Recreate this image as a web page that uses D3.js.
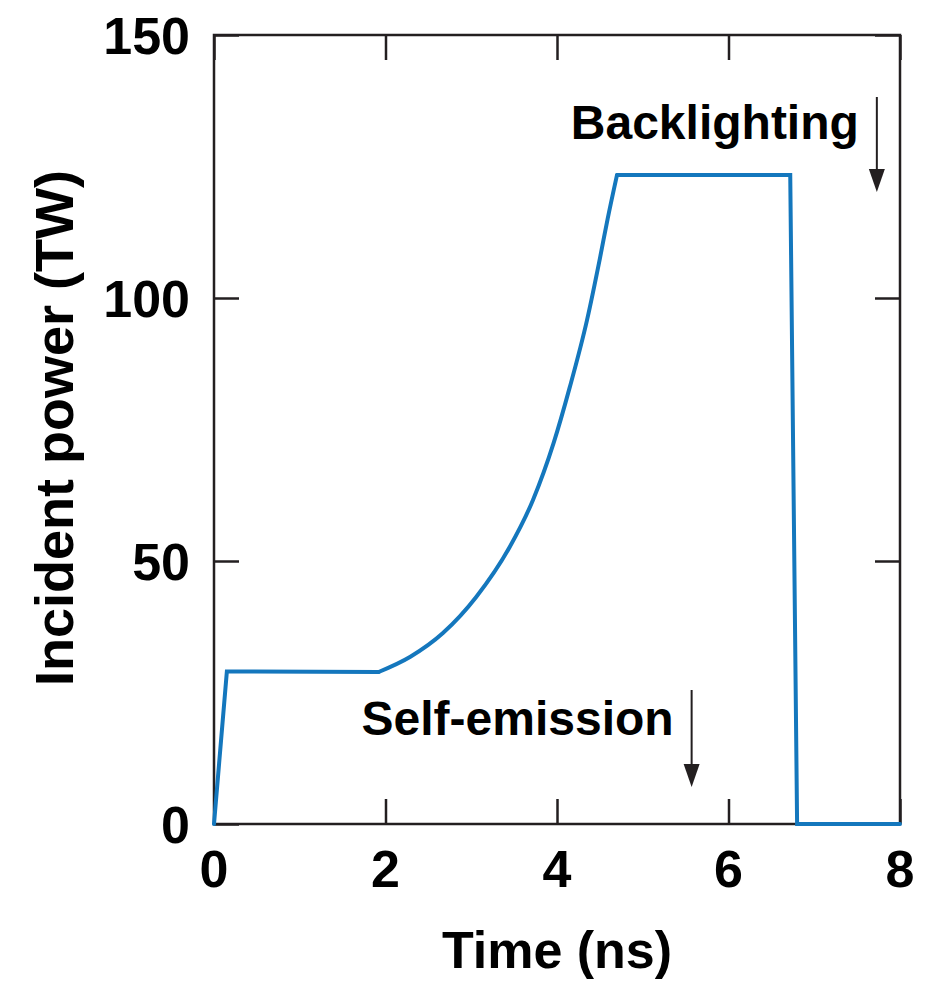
<!DOCTYPE html>
<html>
<head>
<meta charset="utf-8">
<script src="https://cdn.jsdelivr.net/npm/d3@7"></script>
<style>
  body { margin: 0; background: #fff; }
  text { font-family: "Liberation Sans", Arial, Helvetica, sans-serif; font-weight: bold; }
</style>
</head>
<body>
<svg id="chart"></svg>
<script>
// pulse shape (time in ns, power in TW)
// foot and plateau segments are straight, the ramp is smooth
var footTime  = [0, 0.15, 1.92];
var footPower = [0, 29,   28.9];

var rampTime  = [1.92, 2.29, 2.67, 3.06, 3.45, 3.72, 3.96, 4.15, 4.35, 4.50, 4.59, 4.70];
var rampPower = [28.9, 31.8, 36.3, 43.2, 52.7, 61.6, 72.4, 83.1, 95.8, 107.5, 115.0, 123.4];

var tailTime  = [4.70, 6.72, 6.80, 8.0];
var tailPower = [123.4, 123.4, 0, 0];

var xTicks = [0, 2, 4, 6, 8];
var yTicks = [0, 50, 100, 150];

var notes = [
  {label: 'Backlighting', t: 7.73, top: 139, arrowTop: 97, arrowBottom: 192},
  {label: 'Self-emission', t: 5.57, top: 735, arrowTop: 690, arrowBottom: 787}
];

var width = 932,
    height = 981;

var margin = {left: 214, right: 32, top: 35, bottom: 157};

var svg = d3.select('#chart')
    .attr('width', width)
    .attr('height', height);

var x = d3.scaleLinear().domain([0, 8]).range([margin.left, width - margin.right]);
var y = d3.scaleLinear().domain([0, 150]).range([height - margin.bottom, margin.top]);

var frameColor = '#231f20';
var tickLen = 25;

// frame
svg.append('rect')
  .attr('x', x(0))
  .attr('y', y(150))
  .attr('width', x(8) - x(0))
  .attr('height', y(0) - y(150))
  .attr('fill', 'none')
  .attr('stroke', frameColor)
  .attr('stroke-width', 2.5);

// inward ticks on all four sides
svg.append('g')
  .attr('transform', 'translate(0,' + y(0) + ')')
  .call(d3.axisTop(x).tickValues(xTicks).tickSize(tickLen).tickFormat(''))
  .call(function(g) { g.select('.domain').remove(); });
svg.append('g')
  .attr('transform', 'translate(0,' + y(150) + ')')
  .call(d3.axisBottom(x).tickValues(xTicks).tickSize(tickLen).tickFormat(''))
  .call(function(g) { g.select('.domain').remove(); });
svg.append('g')
  .attr('transform', 'translate(' + x(0) + ',0)')
  .call(d3.axisRight(y).tickValues(yTicks).tickSize(tickLen).tickFormat(''))
  .call(function(g) { g.select('.domain').remove(); });
svg.append('g')
  .attr('transform', 'translate(' + x(8) + ',0)')
  .call(d3.axisLeft(y).tickValues(yTicks).tickSize(tickLen).tickFormat(''))
  .call(function(g) { g.select('.domain').remove(); });
svg.selectAll('.tick line')
  .attr('stroke', frameColor)
  .attr('stroke-width', 2.5);

// tick labels
svg.selectAll('.xlab')
  .data(xTicks)
  .enter().append('text')
  .attr('class', 'xlab')
  .attr('x', function(d) { return x(d); })
  .attr('y', y(0) + 63)
  .attr('font-size', 52)
  .attr('text-anchor', 'middle')
  .text(function(d) { return d; });

svg.selectAll('.ylab')
  .data(yTicks)
  .enter().append('text')
  .attr('class', 'ylab')
  .attr('x', x(0) - 24)
  .attr('y', function(d) { return y(d) + 19; })
  .attr('font-size', 52)
  .attr('text-anchor', 'end')
  .text(function(d) { return d; });

// axis titles
svg.append('text')
  .attr('x', (x(0) + x(8)) / 2 + 0)
  .attr('y', 968)
  .attr('font-size', 52)
  .attr('text-anchor', 'middle')
  .text('Time (ns)');

svg.append('text')
  .attr('transform', 'translate(73,' + 428 + ') rotate(-90)')
  .attr('font-size', 54)
  .attr('text-anchor', 'middle')
  .text('Incident power (TW)');

// pulse
var blue = '#1477bd';

function drawPart(ts, ps, curve) {
  var line = d3.line()
    .x(function(d, i) { return x(ts[i]); })
    .y(function(d) { return y(d); })
    .curve(curve);
  svg.append('path')
    .datum(ps)
    .attr('d', line)
    .attr('fill', 'none')
    .attr('stroke', blue)
    .attr('stroke-width', 4)
    .attr('stroke-linejoin', 'miter')
    .attr('stroke-linecap', 'round');
}

drawPart(footTime, footPower, d3.curveLinear);
drawPart(rampTime, rampPower, d3.curveMonotoneX);
drawPart(tailTime, tailPower, d3.curveLinear);

// annotations with arrows
notes.forEach(function(n) {
  var ax = x(n.t);
  svg.append('text')
    .attr('x', ax - 18)
    .attr('y', n.top)
    .attr('font-size', 48)
    .attr('text-anchor', 'end')
    .text(n.label);
  svg.append('line')
    .attr('x1', ax).attr('x2', ax)
    .attr('y1', n.arrowTop).attr('y2', n.arrowBottom - 18)
    .attr('stroke', frameColor)
    .attr('stroke-width', 2);
  svg.append('path')
    .attr('d', 'M' + (ax - 8) + ',' + (n.arrowBottom - 23) + 'L' + (ax + 8) + ',' + (n.arrowBottom - 23) + 'L' + ax + ',' + n.arrowBottom + 'Z')
    .attr('fill', frameColor);
});
</script>
</body>
</html>
